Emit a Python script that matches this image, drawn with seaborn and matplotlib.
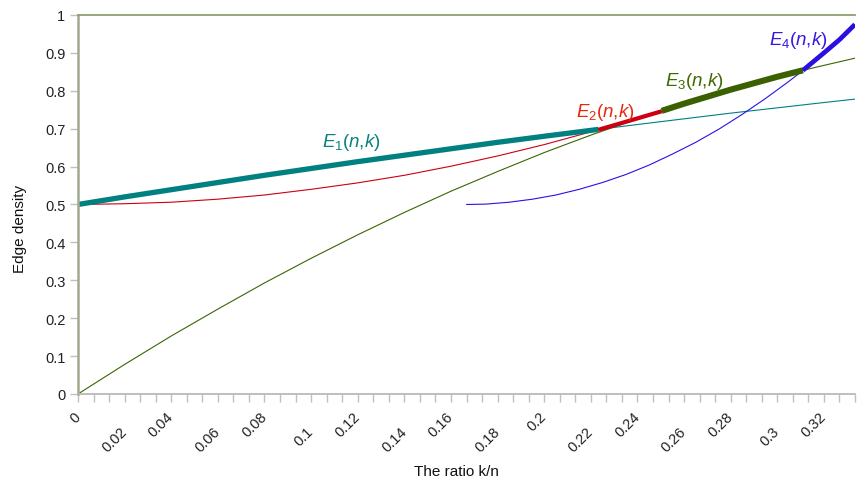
import matplotlib
matplotlib.use('Agg')
import matplotlib.pyplot as plt
import matplotlib.transforms as mtransforms
import seaborn as sns
import numpy as np

# curves (x = k/n, y = edge density)
e1_x = [0, 0.02, 0.04, 0.06, 0.08, 0.10, 0.12, 0.14, 0.16, 0.18, 0.20, 0.2232,
        0.24, 0.26, 0.28, 0.30, 0.32, 0.3333]
e1_y = [0.500, 0.520, 0.539, 0.558, 0.577, 0.595, 0.613, 0.630, 0.647, 0.664, 0.680, 0.698,
        0.711, 0.726, 0.741, 0.755, 0.769, 0.778]

e2_x = [0, 0.02, 0.04, 0.06, 0.08, 0.10, 0.12, 0.14, 0.16, 0.18, 0.20, 0.2232, 0.2366, 0.2504]
e2_y = [0.500, 0.502, 0.506, 0.514, 0.525, 0.540, 0.557, 0.577, 0.601, 0.628, 0.658, 0.697,
        0.721, 0.746]

e3_x = [0, 0.02, 0.04, 0.06, 0.08, 0.10, 0.12, 0.14, 0.16, 0.18, 0.20, 0.22, 0.24, 0.2504,
        0.26, 0.28, 0.30, 0.311, 0.32, 0.3333]
e3_y = [0.000, 0.078, 0.153, 0.224, 0.293, 0.358, 0.420, 0.479, 0.535, 0.587, 0.637, 0.683,
        0.726, 0.747, 0.766, 0.803, 0.837, 0.854, 0.867, 0.886]

e4_x = [0.1667, 0.175, 0.185, 0.195, 0.205, 0.215, 0.225, 0.235, 0.245, 0.255, 0.265,
        0.275, 0.285, 0.295, 0.305, 0.311, 0.32, 0.3267, 0.3333]
e4_y = [0.500, 0.501, 0.506, 0.514, 0.525, 0.540, 0.558, 0.579, 0.604, 0.633, 0.664,
        0.699, 0.738, 0.780, 0.825, 0.854, 0.900, 0.935, 0.975]

# where each curve is the maximum (thick part)
best_ranges = [(0, 0.2232), (0.2232, 0.2504), (0.2504, 0.311), (0.311, 0.3333)]

x_labels = ['0', '0.02', '0.04', '0.06', '0.08', '0.1', '0.12', '0.14', '0.16', '0.18',
            '0.2', '0.22', '0.24', '0.26', '0.28', '0.3', '0.32']
y_labels = ['0', '0.1', '0.2', '0.3', '0.4', '0.5', '0.6', '0.7', '0.8', '0.9', '1']

sns.set_theme(style='ticks')
plt.rcParams['font.family'] = ['Liberation Sans', 'DejaVu Sans']
plt.rcParams['mathtext.fontset'] = 'custom'
plt.rcParams['mathtext.rm'] = 'Liberation Sans'
plt.rcParams['mathtext.it'] = 'Liberation Sans:italic'

fig = plt.figure(figsize=(8.57, 4.81), dpi=100)
ax = fig.add_axes([0.091, 0.1788, 0.9067, 0.788])

curves = [
    (e1_x, e1_y, '#008080', '#008080', 3.8, r'$E_1(n{,}k)$', '#0a8080', (0.1047, 0.654)),
    (e2_x, e2_y, '#cc0010', '#cc0010', 3.0, r'$E_2(n{,}k)$', '#e8280c', (0.2136, 0.734)),
    (e3_x, e3_y, '#3a6600', '#3a6000', 4.4, r'$E_3(n{,}k)$', '#3f6a00', (0.2518, 0.815)),
    (e4_x, e4_y, '#2a10e8', '#2a10e0', 3.4, r'$E_4(n{,}k)$', '#3a18e0', (0.2964, 0.9235)),
]

# thin full curves first
for xs, ys, c, ct, lw, lab, tc, pos in curves:
    sns.lineplot(x=xs, y=ys, color=c, linewidth=0.8, ax=ax)

# thick segments on top
for (xs, ys, c, ct, lw, lab, tc, pos), (lo, hi) in zip(curves, best_ranges):
    xs = np.array(xs)
    ys = np.array(ys)
    m = (xs >= lo - 1e-9) & (xs <= hi + 1e-9)
    sns.lineplot(x=xs[m], y=ys[m], color=ct, linewidth=lw, ax=ax,
                 solid_capstyle='butt')
    ax.text(pos[0], pos[1], lab, color=tc, fontsize=13.5, ha='left', va='baseline')

ax.set_xlim(0, 1 / 3)
ax.set_ylim(0, 1)

ax.set_yticks(np.linspace(0, 1, 11))
ax.set_yticklabels(y_labels)
ax.set_xticks(np.arange(len(x_labels)) * 0.02)
ax.set_xticklabels(x_labels, rotation=45, ha='right', va='top')
ax.set_xticks(np.arange(51) / 150, minor=True)

ax.tick_params(axis='both', which='both', direction='out', length=6, width=1,
               color='#c0c0c0', labelsize=10.5, labelcolor='#222222')
ax.tick_params(axis='x', which='major', pad=5)
ax.tick_params(axis='y', pad=3)

# nudge x labels right, and stagger every other one downwards
for i, t in enumerate(ax.get_xticklabels()):
    dy = -0.15 if i % 2 == 1 else 0
    shift = mtransforms.ScaledTranslation(0.05, dy, fig.dpi_scale_trans)
    t.set_transform(t.get_transform() + shift)

ax.spines['right'].set_visible(False)
ax.spines['top'].set_color('#8fa070')
ax.spines['top'].set_linewidth(1.3)
ax.spines['left'].set_color('#a2a98c')
ax.spines['left'].set_linewidth(1.8)
ax.spines['bottom'].set_color('#b4b4b4')
ax.spines['bottom'].set_linewidth(1.2)

ax.set_xlabel('The ratio k/n', fontsize=11, color='#111111')
ax.set_ylabel('Edge density', fontsize=11, color='#111111')
ax.xaxis.set_label_coords(0.4865, -0.185)
ax.yaxis.set_label_coords(-0.0656, 0.438)

fig.savefig('out.png', dpi=100)
